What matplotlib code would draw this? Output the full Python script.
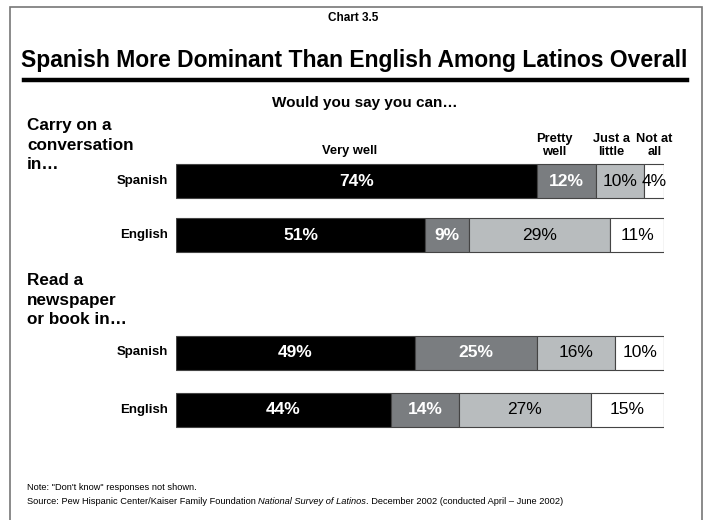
import matplotlib.pyplot as plt
from matplotlib.patches import Rectangle
from matplotlib.lines import Line2D

plt.rcParams["font.family"] = ["Liberation Sans", "DejaVu Sans"]

# data
categories = ["Very well", "Pretty\nwell", "Just a\nlittle", "Not at\nall"]
row_labels = ["Spanish", "English", "Spanish", "English"]
very_well = [74, 51, 49, 44]
pretty_well = [12, 9, 25, 14]
just_a_little = [10, 29, 16, 27]
not_at_all = [4, 11, 10, 15]
group_labels = ["Carry on a\nconversation\nin\u2026", "Read a\nnewspaper\nor book in\u2026"]

series = [very_well, pretty_well, just_a_little, not_at_all]
colors = ["#000000", "#7a7d80", "#b8bcbe", "#ffffff"]
text_colors = ["white", "white", "black", "black"]
text_weights = ["bold", "bold", "normal", "normal"]

W, H = 707, 520
fig = plt.figure(figsize=(W / 100, H / 100), dpi=100)

# bar axes: pixel-based layout (x 176..664, y 160..432)
x0, x1, y0, y1 = 176, 664, 160, 432
ax = fig.add_axes([x0 / W, 1 - y1 / H, (x1 - x0) / W, (y1 - y0) / H])
ax.set_xlim(0, 100)
ax.set_ylim(y1, y0)
ax.axis("off")

row_y = [181, 235, 352.5, 410]
bar_h = 34

left = [0] * len(row_y)
for vals, col, tc, tw in zip(series, colors, text_colors, text_weights):
    ax.barh(row_y, vals, left=left, height=bar_h, color=col,
            edgecolor="#444444", linewidth=0.8)
    for y, v, l in zip(row_y, vals, left):
        ax.text(l + v / 2, y, f"{v}%", ha="center", va="center",
                color=tc, fontsize=12.5, fontweight=tw, clip_on=False)
    left = [a + b for a, b in zip(left, vals)]

for y, lab in zip(row_y, row_labels):
    ax.text(-1.6, y, lab, ha="right", va="center", fontsize=9.5,
            fontweight="bold", clip_on=False)

# category headers over first row
cat_x = [35.5, 77.5, 89.2, 98]
header_y = [151, 145.5, 145.5, 145.5]
for cx, hy, lab in zip(cat_x, header_y, categories):
    ax.text(cx, hy, lab, ha="center", va="center", fontsize=9.3,
            fontweight="bold", linespacing=1.05, clip_on=False)


# figure-level text (pixel coordinates)
def fig_text(x, y, s, **kw):
    return fig.text(x / W, 1 - y / H, s, **kw)


fig_text(353, 18, "Chart 3.5", ha="center", va="center", fontsize=8.5, fontweight="bold")
fig_text(354, 60, "Spanish More Dominant Than English Among Latinos Overall",
         ha="center", va="center", fontsize=16.5, fontweight="bold")
fig_text(365, 103, "Would you say you can\u2026", ha="center", va="center",
         fontsize=11, fontweight="bold")
fig_text(27, 118, group_labels[0], ha="left", va="top", fontsize=12.3,
         fontweight="bold", linespacing=1.38)
fig_text(27, 273, group_labels[1], ha="left", va="top", fontsize=12.3,
         fontweight="bold", linespacing=1.38)

note_fs = 6.7
fig_text(27, 488, "Note: \"Don't know\" responses not shown.", ha="left",
         va="center", fontsize=note_fs)
# source line in three pieces so the survey title can be italic
renderer = fig.canvas.get_renderer()
xpos = 27
for part, style in [("Source: Pew Hispanic Center/Kaiser Family Foundation ", "normal"),
                    ("National Survey of Latinos", "italic"),
                    (". December 2002 (conducted April \u2013 June 2002)", "normal")]:
    t = fig_text(xpos, 502, part, ha="left", va="center", fontsize=note_fs, style=style)
    xpos += t.get_window_extent(renderer).width

# rule under title and outer frame
fig.add_artist(Line2D([24 / W, 687 / W], [1 - 80 / H, 1 - 80 / H], color="black",
                      linewidth=3.2, transform=fig.transFigure))
fig.add_artist(Rectangle((10 / W, -0.05), (702 - 10) / W, 1.05 - 7 / H,
                         fill=False, edgecolor="#777777", linewidth=1.2,
                         transform=fig.transFigure))

fig.savefig("out.png", dpi=100)
